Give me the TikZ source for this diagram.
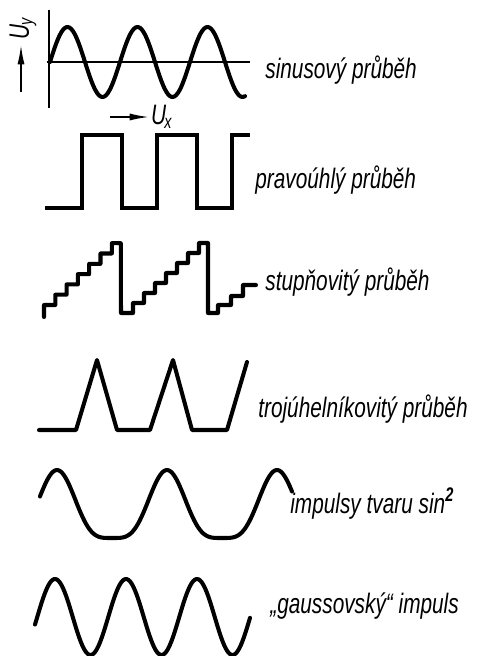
\documentclass[tikz,border=0pt]{standalone}
\usepackage{fontspec}
\newfontfamily\popisfont{Liberation Sans}[FakeStretch=0.74]
\usepackage{tikz}
\usetikzlibrary{arrows.meta,calc,positioning}
\tikzset{
  prubeh/.style={line width=2.3pt,line join=round,line cap=round},
  osa/.style={line width=0.9pt},
  popis/.style={anchor=base west,inner sep=0pt,font=\popisfont\itshape\fontsize{16}{18}\selectfont},
  velicina/.style={inner sep=1pt,font=\popisfont\itshape\fontsize{16}{18}\selectfont},
  sipka/.style={line width=0.9pt,-{Latex[length=11pt,width=4pt]}}
}

\begin{document}
\begin{tikzpicture}[x=0.02cm,y=-0.02cm]
\useasboundingbox (0,0) rectangle (486,656);
% sinusovy prubeh s osami
\coordinate (o) at (49,62);
\draw[osa] (49,10) -- (49,108);
\draw[osa] (47,62) -- (250,62);
\draw[prubeh] plot[domain=50:245,samples=120,smooth] (\x,{62-35*sin(5.142857*(\x-50))});
\coordinate (uy0) at (21,92);
\coordinate (uy1) at (21,45);
\draw[sipka] (uy0) -- (uy1);
\node[velicina,rotate=90] (uy) at (23,29) {U\kern-1pt\raisebox{-2pt}{\fontsize{11}{12}\selectfont y}};
\coordinate (ux0) at (110,117);
\coordinate (ux1) at (149,117);
\draw[sipka] (ux0) -- (ux1);
\node[velicina,anchor=west] (ux) at (ux1) {U\kern-1pt\raisebox{-2pt}{\fontsize{11}{12}\selectfont x}};
\node[popis] (sinus) at (265,78) {sinusový průběh};
% pravouhly prubeh
\draw[prubeh,line join=miter,line cap=rect] (47,208) -- (82,208) -- (82,135) -- (122,135) -- (122,208)
  -- (157,208) -- (157,135) -- (197,135) -- (197,208) -- (232,208) -- (232,135) -- (248,135);
\node[popis] (pravouhly) at (255,188) {pravoúhlý průběh};
% stupnovity prubeh
\draw[prubeh] (44,317) -- (44,305) \foreach \k in {1,...,6} { -- ++(11.3,0) -- ++(0,-10.3) }
  -- ++(9,0) -- (121,313) -- (133,313) -- (133,303) \foreach \k in {1,...,6} { -- ++(11,0) -- ++(0,-10) }
  -- ++(9,0) -- (208,313) -- (218,313) -- (218,305) -- (231,305) -- (231,296) -- (243,296) -- (243,285) -- (256,285);
\node[popis] (stupnovity) at (265,290) {stupňovitý průběh};
% trojuhelnikovity prubeh
\draw[prubeh] (39,430) -- (76,430) -- (97,360) -- (117,430) -- (150,430) -- (173,360)
  -- (192,430) -- (227,430) -- (247,362);
\node[popis] (trojuhelnik) at (258,417) {trojúhelníkovitý průběh};
% impulsy sin^2
\draw[prubeh] plot[domain=40:292,samples=160,smooth]
  (\x,{538-68*cos(1.63636*(\x-57))*cos(1.63636*(\x-57))*cos(1.63636*(\x-57))*cos(1.63636*(\x-57))});
\node[popis] (sinkv) at (290,513) {impulsy tvaru sin\textsuperscript{\bfseries 2}};
% gaussovsky impuls
\draw[prubeh] plot[domain=35:250,samples=160,smooth] (\x,{617-38*cos(5.070423*(\x-55))});
\node[popis] (gauss) at (270,613) {„gaussovský“ impuls};
\end{tikzpicture}
\end{document}
